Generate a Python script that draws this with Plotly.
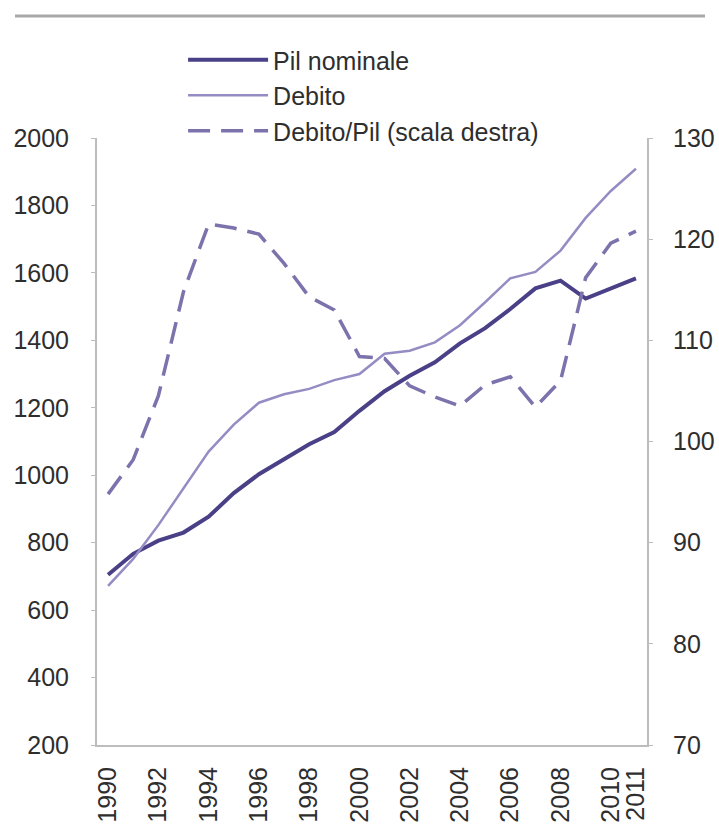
import plotly.graph_objects as go

years = list(range(1990, 2012))
pil_nominale = [705, 767, 806, 830, 877, 947, 1003, 1049, 1092, 1128, 1191, 1249, 1295, 1335, 1391, 1436, 1493, 1554, 1577, 1524, 1553, 1584]
debito = [672, 752, 852, 962, 1070, 1150, 1215, 1240, 1256, 1282, 1300, 1360, 1369, 1394, 1445, 1513, 1584, 1603, 1666, 1763, 1843, 1909]
debito_pil = [94.8, 98.2, 104.5, 114.8, 121.5, 121.1, 120.5, 117.6, 114.3, 113.0, 108.4, 108.2, 105.5, 104.4, 103.5, 105.6, 106.4, 103.4, 106.0, 116.2, 119.6, 120.8]

xtick_vals = [1990, 1992, 1994, 1996, 1998, 2000, 2002, 2004, 2006, 2008, 2010, 2011]
xtick_text = [str(v) for v in xtick_vals]
left_ticks = [200, 400, 600, 800, 1000, 1200, 1400, 1600, 1800, 2000]
right_ticks = [70, 80, 90, 100, 110, 120, 130]

FONT = "Liberation Sans, Arial, sans-serif"
FS = 25
TXT = "#2e2e2e"

T, B = 138, 83
PH = 828 - T - B
PB = 828 - B

fig = go.Figure()
fig.add_trace(go.Scatter(x=years, y=pil_nominale, name="Pil nominale", mode="lines",
                         line=dict(color="#4a4087", width=4)))
fig.add_trace(go.Scatter(x=years, y=debito, name="Debito", mode="lines",
                         line=dict(color="#968cc4", width=2.5)))
fig.add_trace(go.Scatter(x=years, y=debito_pil, name="Debito/Pil (scala destra)", mode="lines",
                         line=dict(color="#7c73ad", width=3.5, dash="22px,11px"), yaxis="y2"))

axis_color = "#bdbdbd"
fig.update_layout(
    width=719, height=828,
    margin=dict(l=97, r=72, t=T, b=B, autoexpand=False),
    paper_bgcolor="white", plot_bgcolor="white",
    font=dict(family=FONT, size=FS, color=TXT),
    showlegend=True,
    legend=dict(x=0.1565, y=(PB - 37) / PH, xanchor="left", yanchor="top",
                font=dict(family=FONT, size=FS, color=TXT),
                bgcolor="rgba(0,0,0,0)", itemwidth=80, tracegroupgap=0),
    xaxis=dict(range=[1989.56, 2011.44], tickvals=xtick_vals, ticktext=xtick_text,
               tickangle=-90, showgrid=False, zeroline=False, showline=True,
               linecolor=axis_color, linewidth=2, ticks="", ticklabelstandoff=10,
               automargin=False, tickfont=dict(size=FS, color=TXT)),
    yaxis=dict(range=[200, 2000], tickvals=left_ticks, showgrid=False, zeroline=False,
               showline=True, linecolor=axis_color, linewidth=2, ticks="outside",
               ticklen=4, tickcolor=axis_color, ticklabelstandoff=17, automargin=False,
               tickfont=dict(size=FS, color=TXT)),
    yaxis2=dict(range=[70, 130], tickvals=right_ticks, overlaying="y", side="right",
                showgrid=False, zeroline=False, showline=True, linecolor=axis_color,
                linewidth=2, ticks="outside", ticklen=4, tickcolor=axis_color,
                ticklabelstandoff=15, automargin=False, tickfont=dict(size=FS, color=TXT)),
    shapes=[dict(type="line", xref="paper", yref="paper", x0=(15 - 97) / 550, x1=(705 - 97) / 550,
                 y0=(PB - 16) / PH, y1=(PB - 16) / PH,
                 line=dict(color="#a8a8a8", width=3))],
)

fig.write_html("out.html", config={"displayModeBar": False},
               post_script="document.body.style.margin='0px';")
